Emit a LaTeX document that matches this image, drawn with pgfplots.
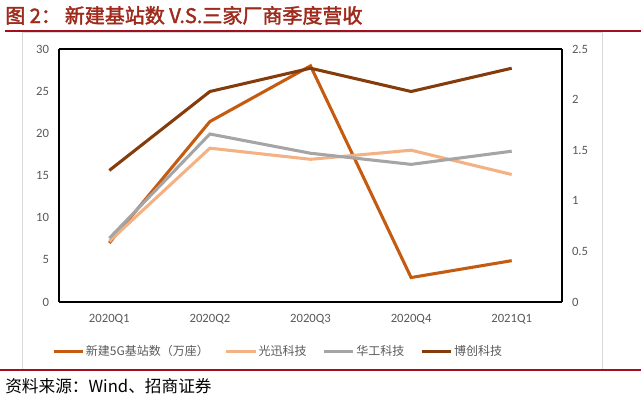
\documentclass[border=0pt]{standalone}
\usepackage{fontspec}
\usepackage{pgfplots}
\pgfplotsset{compat=1.18}
\setmainfont{Carlito}
\newfontfamily\cjk{Noto Sans CJK SC}
\newfontfamily\cjkb{Noto Sans CJK SC}[FakeBold=2]
\definecolor{cA}{HTML}{C55A11}
\definecolor{cB}{HTML}{F4B183}
\definecolor{cC}{HTML}{A5A5A5}
\definecolor{cD}{HTML}{843C0C}
\definecolor{titlered}{HTML}{9E2A1C}
\definecolor{linered}{HTML}{A0101E}
\definecolor{ticktxt}{HTML}{595959}
\definecolor{framegray}{HTML}{D9D9D9}
\begin{document}
\begin{tikzpicture}
\begin{scope}[x=0.75pt,y=-0.75pt]
\useasboundingbox (0,0) rectangle (641,400);
\draw[framegray, line width=0.75pt] (22,32) rectangle (602,370);
\draw[linered, line width=1.5pt] (5,31) -- (641,31);
\draw[linered, line width=1.2pt] (0,370) -- (641,370);
\node[anchor=base west, inner sep=0pt, text=titlered, font=\cjkb\fontsize{15}{17}\selectfont] at (5,23) {图 2：\hspace{3pt}新建基站数 V.S.三家厂商季度营收};
\node[anchor=base west, inner sep=0pt, text=black, font=\cjk\fontsize{12.5}{14}\selectfont] at (5,392) {资料来源：Wind、招商证券};
\end{scope}
\begin{axis}[
  at={(44.25pt,-36.75pt)}, anchor=north west,
  scale only axis, width=377.25pt, height=189.75pt,
  xmin=-0.5, xmax=4.5, ymin=0, ymax=30,
  xtick={0,1,2,3,4},
  xticklabels={2020Q1,2020Q2,2020Q3,2020Q4,2021Q1},
  ytick={0,5,10,15,20,25,30},
  axis y line*=left, axis x line*=bottom,
  axis line style={black, line width=1.1pt},
  major tick length=0pt,
  tick label style={font=\fontsize{9.5}{10}\selectfont, text=ticktxt},
  /pgf/number format/assume math mode=true,
  x axis line style={-}, y axis line style={-},
  xticklabel style={yshift=-6pt},
  yticklabel style={xshift=-4pt},
]
\addplot[cA, line width=2.3pt] coordinates {(0,7.0) (1,21.4) (2,28.0) (3,2.9) (4,4.9)};
\end{axis}
\begin{axis}[
  at={(44.25pt,-36.75pt)}, anchor=north west,
  scale only axis, width=377.25pt, height=189.75pt,
  xmin=-0.5, xmax=4.5, ymin=0, ymax=2.5,
  xtick=\empty,
  ytick={0,0.5,1,1.5,2,2.5},
  yticklabels={0,0.5,1,1.5,2,2.5},
  axis y line*=right, axis x line*=top,
  axis line style={black, line width=1.1pt},
  x axis line style={-}, y axis line style={-},
  major tick length=0pt,
  tick label style={font=\fontsize{9.5}{10}\selectfont, text=ticktxt},
  yticklabel style={xshift=4pt},
  legend style={at={(0.435,-0.194)}, anchor=center, draw=none, fill=none,
    font=\cjk\fontsize{9}{10}\selectfont, text=ticktxt,
    legend columns=4,
    /tikz/every even column/.append style={column sep=11pt},
    nodes={inner sep=1pt}},
  legend image code/.code={\draw[#1] (0pt,0pt) -- (22pt,0pt);},
]
\addlegendimage{cA, line width=2.3pt}
\addlegendentry{新建5G基站数（万座）}
\addplot[cB, line width=2.3pt] coordinates {(0,0.60) (1,1.52) (2,1.41) (3,1.50) (4,1.26)};
\addlegendentry{光迅科技}
\addplot[cC, line width=2.3pt] coordinates {(0,0.63) (1,1.66) (2,1.47) (3,1.36) (4,1.49)};
\addlegendentry{华工科技}
\addplot[cD, line width=2.3pt] coordinates {(0,1.30) (1,2.08) (2,2.31) (3,2.08) (4,2.31)};
\addlegendentry{博创科技}
\end{axis}
\end{tikzpicture}
\end{document}
